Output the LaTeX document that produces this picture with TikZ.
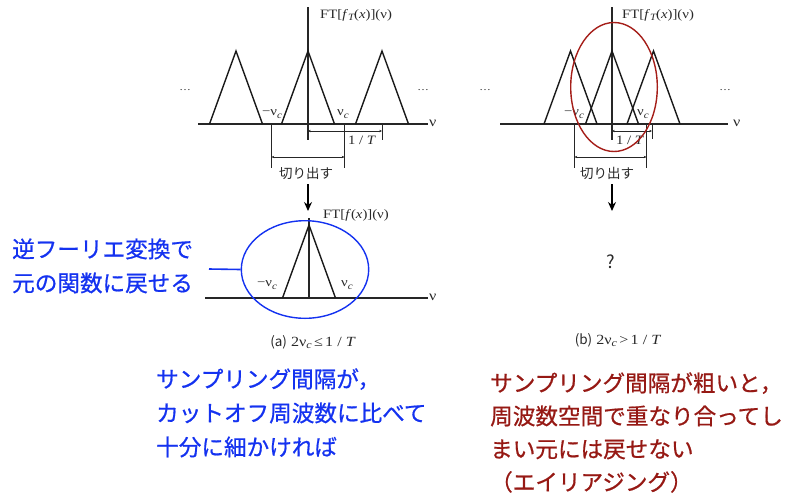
\documentclass[tikz,border=0pt]{standalone}
\usepackage{fontspec}
\setmainfont[FakeStretch=1.15]{Liberation Serif}
\newfontfamily\jp{Noto Sans CJK JP}
\newfontfamily\jpb[FakeBold=0.7]{Noto Sans CJK JP}
\usetikzlibrary{arrows.meta,shapes.geometric}
\definecolor{jblue}{RGB}{20,50,240}
\definecolor{jred}{RGB}{150,25,20}
\definecolor{ered}{RGB}{165,30,25}
\definecolor{txt}{RGB}{40,40,40}
\newcommand\lo[1]{\raisebox{-0.45ex}{\scalebox{0.75}{\itshape #1}}}
\begin{document}
\begin{tikzpicture}[x=1pt,y=-1pt,
  axis/.style={line width=1.1pt,black!85},
  tri/.style={line width=1.4pt,black!90,line join=miter},
  tick/.style={line width=0.9pt,black!85},
  dim/.style={line width=0.7pt,black!85,{Stealth[length=2.8pt,width=2.4pt]}-{Stealth[length=2.8pt,width=2.4pt]}},
  bigarrow/.style={line width=1.3pt,black,-{Stealth[length=9pt,width=8pt]}},
  lab/.style={inner sep=0pt,text=txt,font=\fontsize{12.8}{14}\selectfont},
  capt/.style={inner sep=0pt,text=txt,font=\fontsize{14}{16}\selectfont},
  dots/.style={inner sep=0pt,text=txt,font=\fontsize{10}{12}\selectfont},
  jsmall/.style={inner sep=0pt,text=txt,font=\jp\fontsize{13.5}{15}\selectfont},
  jbig/.style={inner sep=0pt,align=left,font=\jpb\fontsize{22.6}{34}\selectfont},
  ellb/.style={draw=jblue,line width=1.4pt,ellipse,inner sep=0pt},
  ellr/.style={draw=ered,line width=1.4pt,ellipse,inner sep=0pt}]
\useasboundingbox (0,0) rectangle (789,496);

% ---------------- panel (a), top ----------------
\draw[axis] (198,124) -- (428,124);
\draw[axis] (308,7) -- (308,140);
\draw[tri] (209.5,124) -- (236,51) -- (262.5,124);
\draw[tri] (281.5,124) -- (308,51) -- (334.5,124);
\draw[tri] (355.5,124) -- (382,51) -- (408.5,124);
\node[lab,anchor=west] (anu) at (429,123) {\fontsize{14}{15}\selectfont ν};
\node[lab,anchor=west] (aft) at (320,15) {FT[\textit{f}\lo{T}(\textit{x})](ν)};
\node[dots] (adl) at (185,90) {\ldots};
\node[dots] (adr) at (423,90) {\ldots};
\node[lab] (anc1) at (272,114) {−ν\lo{c}};
\node[lab] (anc2) at (343,114) {ν\lo{c}};
\coordinate (at1a) at (271.5,124);
\coordinate (at1b) at (271.5,168);
\coordinate (at2a) at (344.5,124);
\coordinate (at2b) at (344.5,168);
\draw[tick] (at1a) -- (at1b);
\draw[tick] (at2a) -- (at2b);
\draw[dim] (271.5,157) -- (344.5,157);
\coordinate (aTa) at (382,125);
\coordinate (aTb) at (382,140);
\draw[tick] (aTa) -- (aTb);
\draw[dim] (308,131) -- (382,131);
\node[lab] (aT) at (362,140.5) {1 / \textit{T}};
\node[jsmall] (acut) at (306,173) {切り出す};
\coordinate (aar1) at (308,184);
\coordinate (aar2) at (308,211);
\draw[bigarrow] (aar1) -- (aar2);

% ---------------- panel (a), bottom ----------------
\draw[axis] (205,298) -- (428,298);
\draw[axis] (309,218) -- (309,298);
\draw[tri] (282.5,298) -- (309,225) -- (335.5,298);
\node[lab,anchor=west] (bnu) at (429,297) {\fontsize{14}{15}\selectfont ν};
\node[lab,anchor=west] (bft) at (323,215) {FT[\textit{f}(\textit{x})](ν)};
\node[lab] (bnc1) at (267,285) {−ν\lo{c}};
\node[lab] (bnc2) at (347,285) {ν\lo{c}};
\node[ellb,minimum width=127.4pt,minimum height=97.6pt] (ellA) at (305,269.5) {};
\node[jbig,text=jblue,anchor=base west] (inv) at (12,291.5) {逆フーリエ変換で\\元の関数に戻せる};
\coordinate (invend) at (209,269);
\draw[jblue,line width=1.6pt] (invend) -- (ellA.west);
\node[capt] (capa) at (313,342) {{\jp\fontsize{13.5}{15}\selectfont (a)} 2ν\lo{c}\,≤\,1 / \textit{T}};

% ---------------- panel (b), top ----------------
\draw[axis] (500,124) -- (728,124);
\draw[axis] (612,7) -- (612,140);
\draw[tri] (544,124) -- (570.5,51) -- (597,124);
\draw[tri] (585.5,124) -- (612,51) -- (638.5,124);
\draw[tri] (627,124) -- (653.5,51) -- (680,124);
\node[lab,anchor=west] (cnu) at (733,123) {\fontsize{14}{15}\selectfont ν};
\node[lab,anchor=west] (cft) at (622,15) {FT[\textit{f}\lo{T}(\textit{x})](ν)};
\node[dots] (cdl) at (485,90) {\ldots};
\node[dots] (cdr) at (725,90) {\ldots};
\node[lab] (cnc1) at (574,114) {−ν\lo{c}};
\node[lab] (cnc2) at (643,114) {ν\lo{c}};
\coordinate (ct1a) at (574.5,124);
\coordinate (ct1b) at (574.5,168);
\coordinate (ct2a) at (646.5,124);
\coordinate (ct2b) at (646.5,168);
\draw[tick] (ct1a) -- (ct1b);
\draw[tick] (ct2a) -- (ct2b);
\draw[dim] (574.5,157) -- (646.5,157);
\coordinate (cTa) at (652,125);
\coordinate (cTb) at (652,139);
\draw[tick] (cTa) -- (cTb);
\draw[dim] (612,131) -- (652,131);
\node[lab] (cT) at (630,140.5) {1 / \textit{T}};
\node[ellr,minimum width=86.6pt,minimum height=129pt] (ellB) at (614,87) {};
\node[jsmall] (ccut) at (607,173) {切り出す};
\coordinate (car1) at (612,184);
\coordinate (car2) at (612,211);
\draw[bigarrow] (car1) -- (car2);
\node[inner sep=0pt,text=txt,font=\jp\fontsize{18}{20}\selectfont] (q) at (611,262) {?};
\node[capt] (capb) at (618,340) {{\jp\fontsize{13.5}{15}\selectfont (b)} 2ν\lo{c}\,>\,1 / \textit{T}};

% ---------------- comments ----------------
\node[jbig,text=jblue,anchor=base west] (cmtA) at (156,455.5) {サンプリング間隔が，\\カットオフ周波数に比べて\\十分に細かければ};
\node[jbig,text=jred,anchor=base west,font=\jpb\fontsize{22.6}{33}\selectfont] (cmtB) at (490,490.5) {サンプリング間隔が粗いと，\\周波数空間で重なり合ってし\\まい元には戻せない\\（エイリアジング）};
\end{tikzpicture}
\end{document}
